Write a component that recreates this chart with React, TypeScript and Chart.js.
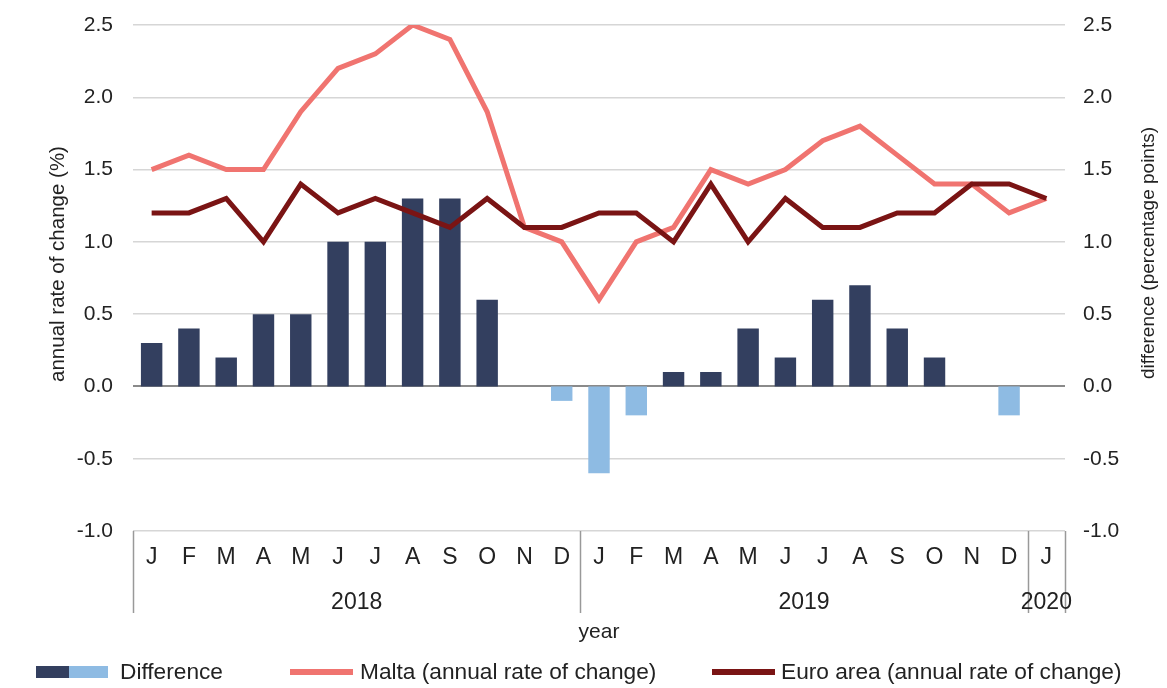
import React, { useEffect, useRef } from "react";
import { Chart, registerables } from "chart.js";

Chart.register(...registerables);

const months = ["J","F","M","A","M","J","J","A","S","O","N","D","J","F","M","A","M","J","J","A","S","O","N","D","J"];
const yearGroups = [
  { label: "2018", from: 0, to: 11 },
  { label: "2019", from: 12, to: 23 },
  { label: "2020", from: 24, to: 24 },
];
const malta = [1.5,1.6,1.5,1.5,1.9,2.2,2.3,2.5,2.4,1.9,1.1,1.0,0.6,1.0,1.1,1.5,1.4,1.5,1.7,1.8,1.6,1.4,1.4,1.2,1.3];
const euroArea = [1.2,1.2,1.3,1.0,1.4,1.2,1.3,1.2,1.1,1.3,1.1,1.1,1.2,1.2,1.0,1.4,1.0,1.3,1.1,1.1,1.2,1.2,1.4,1.4,1.3];
const difference = [0.3,0.4,0.2,0.5,0.5,1.0,1.0,1.3,1.3,0.6,0,-0.1,-0.6,-0.2,0.1,0.1,0.4,0.2,0.6,0.7,0.4,0.2,0,-0.2,0];

const NAVY = "#333f5f";
const LIGHT = "#8ebbe3";
const MALTA = "#f07470";
const EURO = "#7a1414";
const FONT = "'Liberation Sans', Arial, Helvetica, sans-serif";
const TEXT = "#222222";

const extrasPlugin = {
  id: "extras",
  afterDraw(chart: any) {
    const ctx = chart.ctx;
    const x = chart.scales.x;
    const area = chart.chartArea;
    const half = (x.getPixelForValue(1) - x.getPixelForValue(0)) / 2;
    ctx.save();
    // month labels
    ctx.fillStyle = TEXT;
    ctx.font = `23px ${FONT}`;
    ctx.textAlign = "center";
    ctx.textBaseline = "middle";
    months.forEach((m, i) => {
      ctx.fillText(m, x.getPixelForValue(i), area.bottom + 27);
    });
    // separators
    ctx.strokeStyle = "#999999";
    ctx.lineWidth = 1.5;
    const seps: number[] = [];
    yearGroups.forEach((g) => {
      seps.push(x.getPixelForValue(g.from) - half);
    });
    seps.push(x.getPixelForValue(yearGroups[yearGroups.length - 1].to) + half);
    seps.forEach((sx) => {
      ctx.beginPath();
      ctx.moveTo(Math.round(sx) + 0.5, area.bottom);
      ctx.lineTo(Math.round(sx) + 0.5, area.bottom + 82);
      ctx.stroke();
    });
    // year labels
    yearGroups.forEach((g) => {
      const cx = (x.getPixelForValue(g.from) - half + x.getPixelForValue(g.to) + half) / 2;
      ctx.fillText(g.label, cx, area.bottom + 72);
    });
    // axis title
    ctx.font = `21px ${FONT}`;
    ctx.fillText("year", (area.left + area.right) / 2, area.bottom + 101);
    // y titles
    ctx.font = `20.5px ${FONT}`;
    ctx.save();
    ctx.translate(58, 264);
    ctx.rotate(-Math.PI / 2);
    ctx.fillText("annual rate of change (%)", 0, 0);
    ctx.restore();
    ctx.font = `19px ${FONT}`;
    ctx.save();
    ctx.translate(1149, 253);
    ctx.rotate(-Math.PI / 2);
    ctx.fillText("difference (percentage points)", 0, 0);
    ctx.restore();
    // legend
    const ly = 672;
    ctx.fillStyle = NAVY;
    ctx.fillRect(36, ly - 6, 33, 12);
    ctx.fillStyle = LIGHT;
    ctx.fillRect(69, ly - 6, 39, 12);
    ctx.lineWidth = 6;
    ctx.strokeStyle = MALTA;
    ctx.beginPath();
    ctx.moveTo(290, ly);
    ctx.lineTo(353, ly);
    ctx.stroke();
    ctx.strokeStyle = EURO;
    ctx.beginPath();
    ctx.moveTo(712, ly);
    ctx.lineTo(775, ly);
    ctx.stroke();
    ctx.fillStyle = TEXT;
    ctx.font = `22.7px ${FONT}`;
    ctx.textAlign = "left";
    ctx.fillText("Difference", 120, ly + 1);
    ctx.fillText("Malta (annual rate of change)", 360, ly + 1);
    ctx.fillText("Euro area (annual rate of change)", 781, ly + 1);
    ctx.restore();
  },
};

const noPad = (s: any) => {
  s.paddingTop = 0;
  s.paddingBottom = 0;
};

export default function App() {
  const ref = useRef<HTMLCanvasElement | null>(null);
  useEffect(() => {
    document.body.style.margin = "0";
    if (!ref.current) return;
    const chart = new Chart(ref.current, {
      type: "bar",
      data: {
        labels: months,
        datasets: [
          {
            type: "line",
            label: "Euro area (annual rate of change)",
            data: euroArea,
            borderColor: EURO,
            backgroundColor: EURO,
            borderWidth: 5,
            pointRadius: 0,
            tension: 0,
            yAxisID: "y",
            order: 0,
          },
          {
            type: "line",
            label: "Malta (annual rate of change)",
            data: malta,
            borderColor: MALTA,
            backgroundColor: MALTA,
            borderWidth: 5,
            pointRadius: 0,
            tension: 0,
            yAxisID: "y",
            order: 1,
          },
          {
            type: "bar",
            label: "Difference",
            data: difference,
            backgroundColor: difference.map((v) => (v < 0 ? LIGHT : NAVY)),
            borderWidth: 0,
            barPercentage: 0.575,
            categoryPercentage: 1,
            yAxisID: "y2",
            order: 2,
          },
        ],
      },
      options: {
        responsive: false,
        animation: false,
        layout: { padding: { top: 25, left: 0, right: 0, bottom: 0 } },
        plugins: {
          legend: { display: false },
          tooltip: { enabled: false },
        },
        scales: {
          x: {
            ticks: { display: false },
            grid: { display: false, drawTicks: false },
            border: { display: false },
            afterFit: (s: any) => {
              s.height = 157;
              s.paddingLeft = 0;
              s.paddingRight = 0;
            },
          },
          y: {
            position: "left",
            min: -1,
            max: 2.5,
            ticks: {
              stepSize: 0.5,
              padding: 20,
              color: TEXT,
              font: { family: FONT, size: 21 },
              callback: (v: any) => Number(v).toFixed(1),
            },
            grid: {
              drawTicks: false,
              color: (c: any) => (c.tick && c.tick.value === 0 ? "#8a8a8a" : "#d6d6d6"),
              lineWidth: (c: any) => (c.tick && c.tick.value === 0 ? 2 : 1.5),
            },
            border: { display: false },
            afterFit: (s: any) => {
              s.width = 133;
              noPad(s);
            },
          },
          y2: {
            position: "right",
            min: -1,
            max: 2.5,
            ticks: {
              stepSize: 0.5,
              padding: 18,
              color: TEXT,
              font: { family: FONT, size: 21 },
              callback: (v: any) => Number(v).toFixed(1),
            },
            grid: { display: false, drawTicks: false },
            border: { display: false },
            afterFit: (s: any) => {
              s.width = 102;
              noPad(s);
            },
          },
        },
      },
      plugins: [extrasPlugin],
    } as any);
    return () => chart.destroy();
  }, []);
  return <canvas ref={ref} width={1167} height={688} style={{ display: "block" }} />;
}
